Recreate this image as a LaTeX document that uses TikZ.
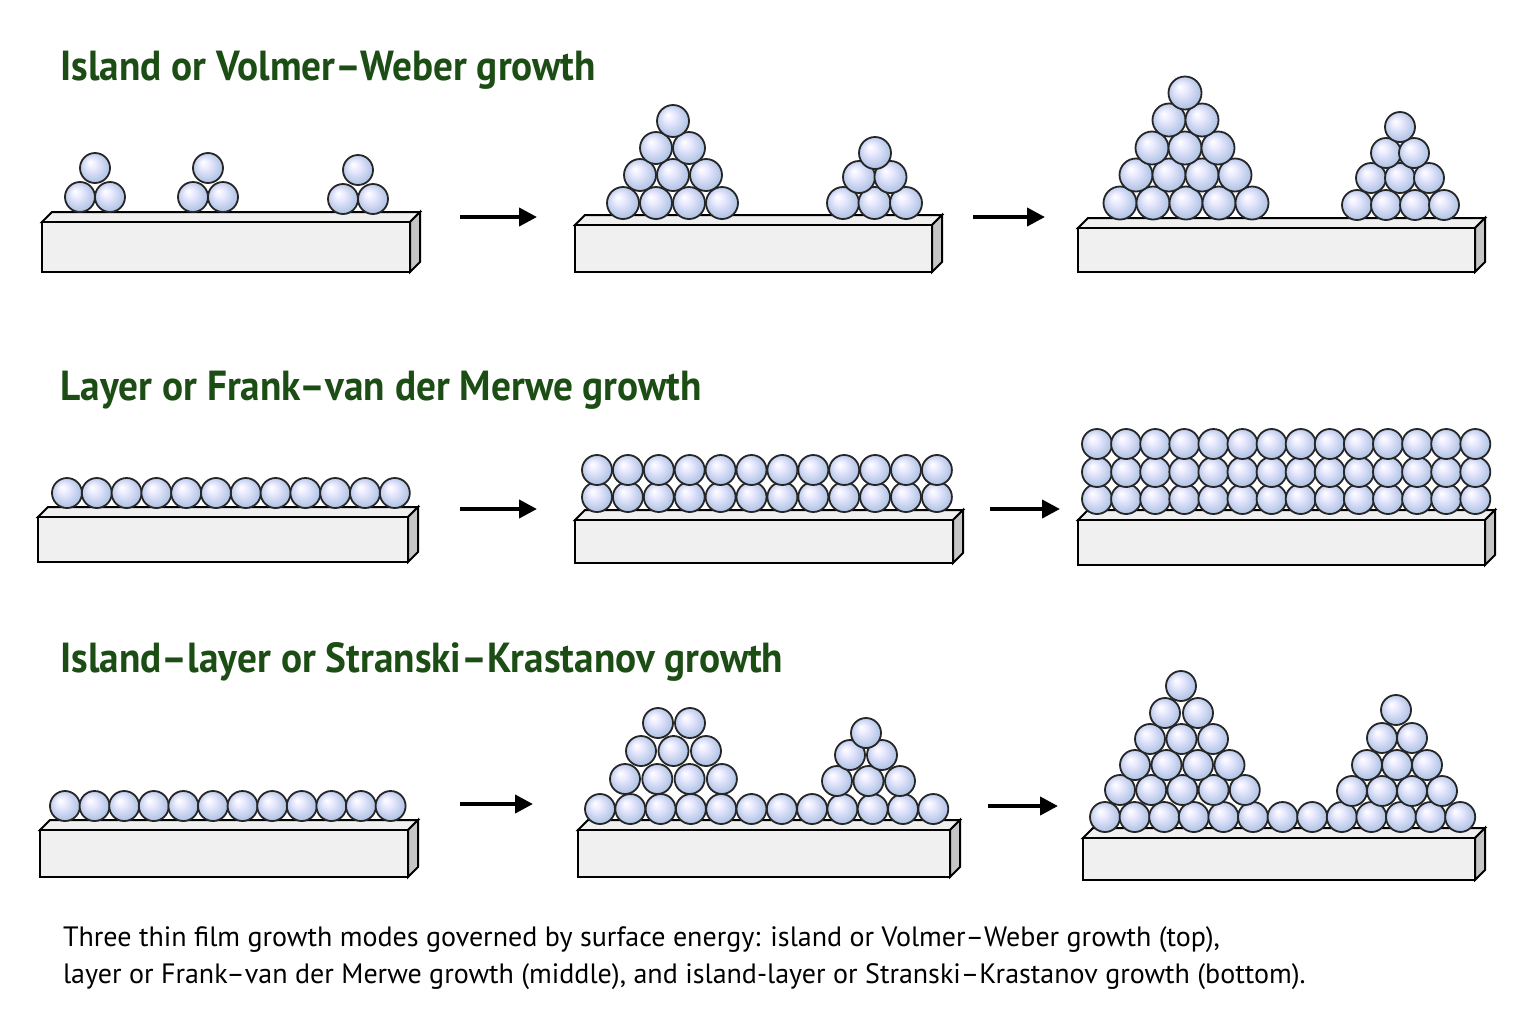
\documentclass[tikz,border=0pt]{standalone}
\usepackage{fontspec}
\setmainfont{PT Sans}
\usetikzlibrary{arrows.meta}
\definecolor{ttl}{HTML}{1B4D14}
\pgfdeclareradialshading{myball}{\pgfpoint{-0.3cm}{0.35cm}}{%
 color(0cm)=(white); color(0.3cm)=(white!92!blue); color(0.9cm)=(rgb,255:red,176;green,195;blue,228); color(1.15cm)=(rgb,255:red,120;green,145;blue,195)}
\tikzset{
 title/.style={anchor=base west,text=ttl,font=\fontsize{21}{24}\selectfont\bfseries,xscale=0.935,transform shape},
 captxt/.style={anchor=base west,font=\fontsize{14}{16}\selectfont,align=left},
 slabf/.style={draw=black,line width=1pt,fill=gray!12},
 slabs/.style={draw=black,line width=1pt,fill=gray!45},
 arr/.style={line width=2pt,-{Triangle[length=9pt,width=9pt]}},
}
\newcommand{\ball}[3][15]{\shade[shading=myball] (#2,#3) circle (#1);\draw[line width=0.9pt,black!85] (#2,#3) circle (#1);}
\newcommand{\slab}[4]{% x1 x2 ytop ybot
 \draw[slabf] (#1,#3) -- ++(10,-10) -- (#2+10,#3-10) -- (#2,#3) -- cycle;
 \draw[slabs] (#2,#3) -- (#2+10,#3-10) -- (#2+10,#4-10) -- (#2,#4) -- cycle;
 \draw[slabf] (#1,#3) rectangle (#2,#4);}
\newcommand{\rowballs}[5][15]{% r, xstart, step, n, y
 \foreach \i in {1,...,#4}{\pgfmathsetmacro\xx{#2+(\i-1)*#3}\ball[#1]{\xx}{#5}}}
\begin{document}
\begin{tikzpicture}[x=0.5pt,y=-0.5pt]
\useasboundingbox[fill=white] (0,0) rectangle (1536,1024);
% titles
\node[title] (t1) at (54,80) {Island or Volmer–Weber growth};
\node[title] (t2) at (54,400) {Layer or Frank–van der Merwe growth};
\node[title] (t3) at (54,672) {Island–layer or Stranski–Krastanov growth};
% row 1
\slab{42}{410}{222}{272}
\rowballs{80}{30}{2}{197}\ball{95}{168}
\rowballs{193}{30}{2}{197}\ball{208}{168}
\rowballs{343}{30}{2}{199}\ball{358}{170}
\slab{575}{932}{225}{272}
\rowballs[16]{623}{33}{4}{203}\rowballs[16]{640}{33}{3}{175}\rowballs[16]{656}{33}{2}{148}\ball[16]{673}{121}
\rowballs[16]{843}{31.5}{3}{203}\rowballs[16]{859}{31.5}{2}{177}\ball[16]{875}{153}
\slab{1078}{1475}{228}{272}
\rowballs[16.5]{1120}{33}{5}{203}\rowballs[16.5]{1136}{33}{4}{175}\rowballs[16.5]{1152}{33}{3}{148}\rowballs[16.5]{1169}{33}{2}{120}\ball[16.5]{1185}{93}
\rowballs{1357}{29}{4}{205}\rowballs{1371}{29}{3}{178}\rowballs{1386}{28}{2}{153}\ball{1400}{127}
\coordinate (a1s) at (460,217); \coordinate (a1e) at (537,217);
\coordinate (a2s) at (973,217); \coordinate (a2e) at (1045,217);
\draw[arr] (a1s) -- (a1e); \draw[arr] (a2s) -- (a2e);
% row 2
\slab{38}{408}{517}{562}
\rowballs{67}{29.8}{12}{493}
\slab{575}{953}{520}{563}
\rowballs{597}{30.9}{12}{497}\rowballs{597}{30.9}{12}{470}
\slab{1078}{1485}{520}{565}
\rowballs{1097}{29.1}{14}{499}\rowballs{1097}{29.1}{14}{472}\rowballs{1097}{29.1}{14}{444}
\coordinate (a3s) at (460,509); \coordinate (a3e) at (537,509);
\coordinate (a4s) at (990,509); \coordinate (a4e) at (1060,509);
\draw[arr] (a3s) -- (a3e); \draw[arr] (a4s) -- (a4e);
% row 3
\slab{40}{408}{830}{877}
\rowballs{65}{29.6}{12}{806}
\slab{578}{950}{830}{877}
\rowballs{600}{30.3}{12}{809}
\rowballs{625}{32.3}{4}{779}\rowballs{641}{32.5}{3}{751}\rowballs{658}{32}{2}{723}
\rowballs{837}{31.5}{3}{781}\rowballs{850}{32}{2}{755}\ball{866}{733}
\slab{1083}{1475}{838}{880}
\rowballs{1105}{29.6}{13}{817}
\rowballs{1120}{31.2}{5}{790}\rowballs{1135}{31.5}{4}{765}\rowballs{1150}{31.5}{3}{739}\rowballs{1165}{33}{2}{713}\ball{1181}{686}
\rowballs{1352}{30}{4}{791}\rowballs{1367}{30}{3}{765}\rowballs{1382}{30}{2}{738}\ball{1396}{710}
\coordinate (a5s) at (460,804); \coordinate (a5e) at (533,804);
\coordinate (a6s) at (988,806); \coordinate (a6e) at (1058,806);
\draw[arr] (a5s) -- (a5e); \draw[arr] (a6s) -- (a6e);
% caption
\node[captxt] (c1) at (56,946) {Three thin film growth modes governed by surface energy: island or Volmer–Weber growth (top),};
\node[captxt] (c2) at (56,983) {layer or Frank–van der Merwe growth (middle), and island-layer or Stranski–Krastanov growth (bottom).};
\end{tikzpicture}
\end{document}
